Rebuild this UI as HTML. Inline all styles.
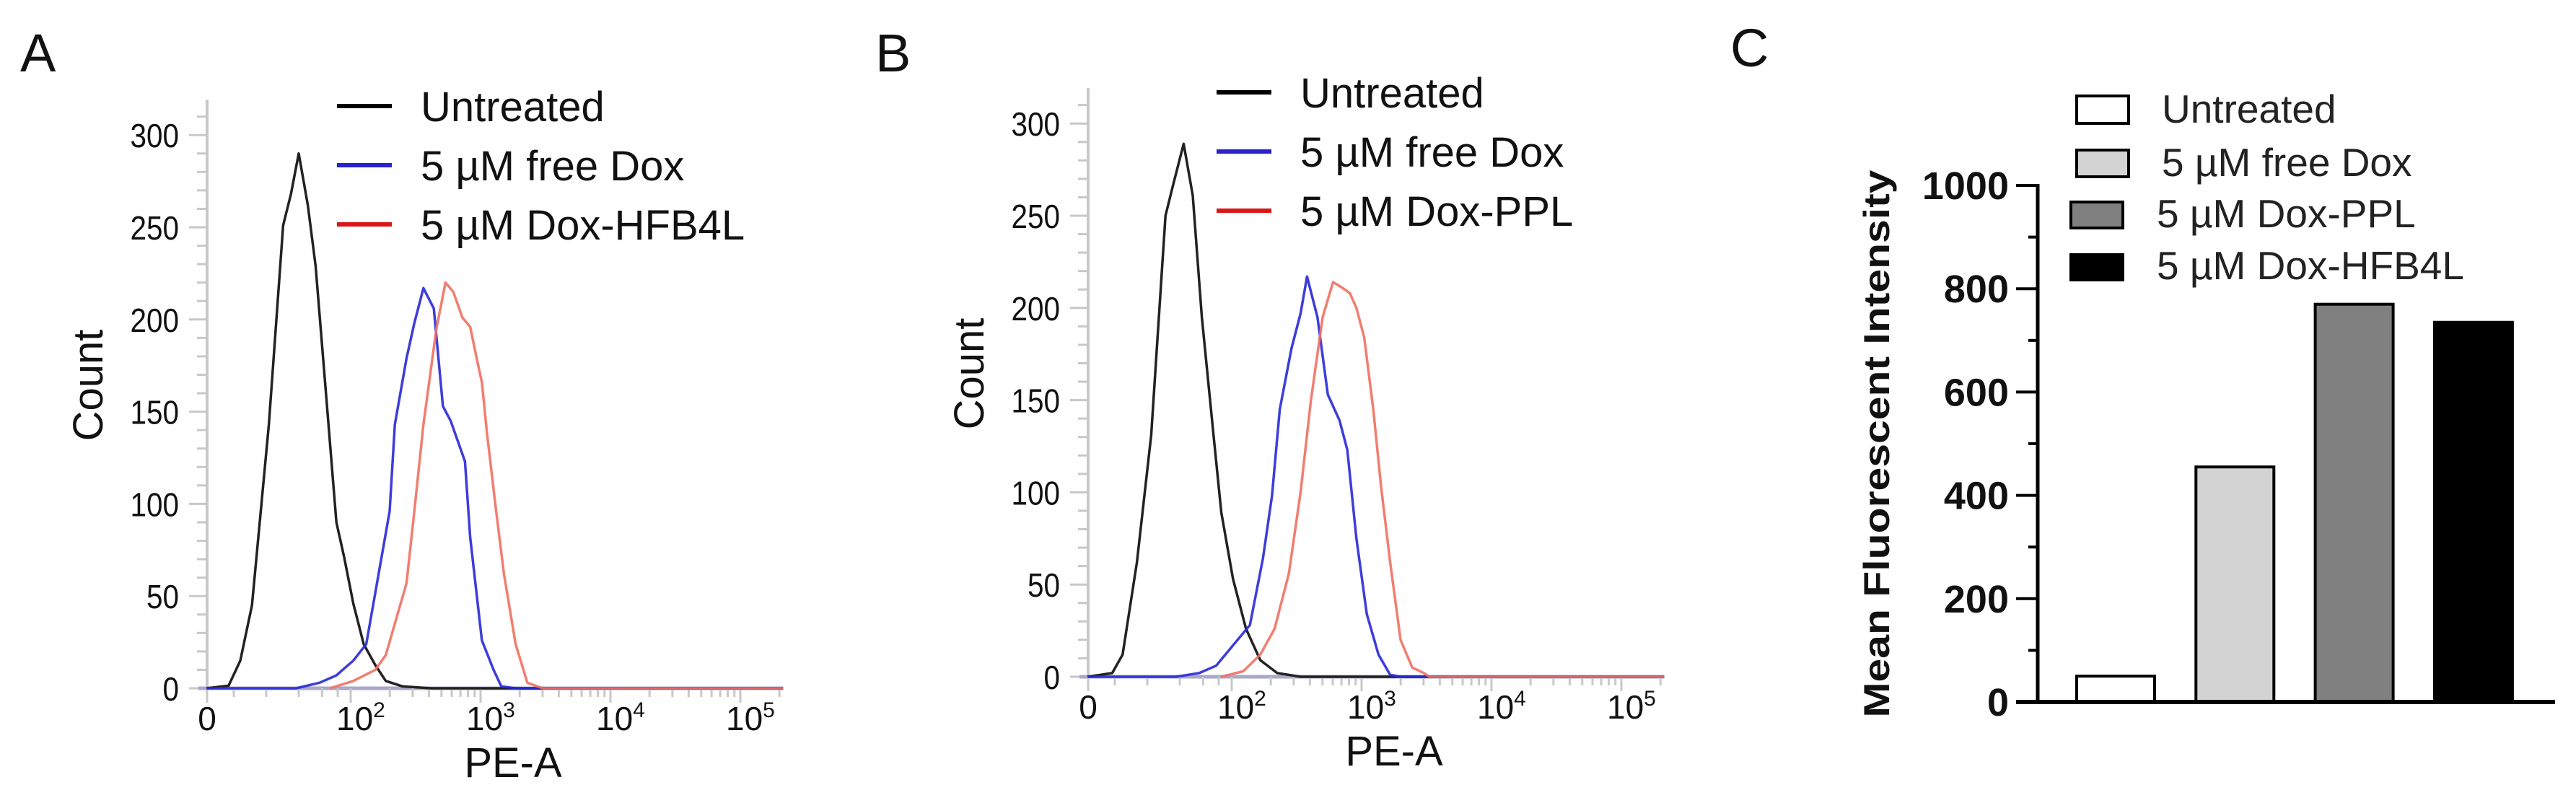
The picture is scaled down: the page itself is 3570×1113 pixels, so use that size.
<!DOCTYPE html>
<html><head><meta charset="utf-8"><style>
html,body{margin:0;padding:0;background:#fff;}
svg{display:block;}
text{font-family:"Liberation Sans",Arial,sans-serif;}
</style></head><body>
<svg id="fig" width="3570" height="1113" viewBox="0 0 3570 1113" xmlns="http://www.w3.org/2000/svg">
<rect width="3570" height="1113" fill="#fff"/>
<text x="28" y="99" font-size="74" fill="#111">A</text>
<text x="1213" y="99" font-size="74" fill="#111">B</text>
<text x="2398" y="92" font-size="74" fill="#111">C</text>
<g id="pa"></g>
<g id="pb"></g>
<g id="pc"></g>
</svg>
<script>
// ---- Panel A data (x in display decades: 2 = 10^2, 3 = 10^3 ...) ----
const aBlackX=[0.89,1.06,1.15,1.24,1.37,1.48,1.54,1.60,1.67,1.73,1.82,1.89,1.95,2.02,2.10,2.19,2.27,2.40,2.62,5.33];
const aBlackY=[0,1.4,15,45,143,251,268,290,262,229,151,90,71,46,24,12.5,4,1,0,0];
const aBlueX=[0.89,1.58,1.76,1.89,2.02,2.12,2.23,2.30,2.34,2.43,2.49,2.56,2.64,2.71,2.77,2.88,2.92,3.01,3.10,3.16,3.27,5.33];
const aBlueY=[0,0,3,7,15,24,68,96,143,179,198,217,206,153,145,123,82,26,10,1,0,0];
const aRedX=[1.84,2.02,2.19,2.27,2.34,2.43,2.49,2.56,2.66,2.73,2.79,2.86,2.92,2.97,3.01,3.05,3.12,3.18,3.27,3.36,3.48,5.33];
const aRedY=[0,4,10,18,35,57,96,143,195,220,215,201,196,179,166,138,96,62,24,3,0,0];
const aLegend=["Untreated","5 \u00b5M  free Dox","5 \u00b5M  Dox-HFB4L"];
// ---- Panel B data ----
const bBlackX=[0.89,1.08,1.16,1.27,1.38,1.49,1.55,1.63,1.70,1.77,1.86,1.92,2.01,2.11,2.22,2.35,2.53,5.33];
const bBlackY=[0,2,12,62,131,250,267,289,261,195,131,89,53,26,9,2,0,0];
const bBlueX=[0.89,1.57,1.75,1.88,2.01,2.14,2.24,2.31,2.37,2.46,2.53,2.58,2.66,2.74,2.83,2.89,2.96,3.04,3.13,3.22,3.30,5.33];
const bBlueY=[0,0,2,6,17,28,64,98,145,178,197,217,195,153,139,123,75,34,12,1,0,0];
const bRedX=[1.92,2.09,2.22,2.33,2.44,2.53,2.61,2.70,2.78,2.85,2.91,2.96,3.02,3.09,3.15,3.22,3.30,3.39,3.48,3.52,5.33];
const bRedY=[0,3,12,26,56,100,150,195,214,211,208,200,184,145,103,62,20,5,2,0,0];
const bLegend=["Untreated","5 \u00b5M  free Dox","5 \u00b5M  Dox-PPL"];
// ---- shared axis ticks ----
const countTicks=[0,50,100,150,200,250,300];
const decadeTicks=[2,3,4,5];
// ---- Panel C data ----
const barCats=["Untreated","5 \u00b5M free Dox","5 \u00b5M Dox-PPL","5 \u00b5M Dox-HFB4L"];
const barVals=[50,455,770,735];
const barTicks=[0,200,400,600,800,1000];

const NS="http://www.w3.org/2000/svg";
function mk(parent,tag,attrs,txt){const e=document.createElementNS(NS,tag);for(const k in attrs)e.setAttribute(k,attrs[k]);if(txt!==undefined)e.textContent=txt;parent.appendChild(e);return e;}

function hist(gid,ax,base,dec2,series,legend,legX,legY0){
  const g=document.getElementById(gid);
  const xS=d=>dec2+(d-2)*180;
  const yS=c=>base-c*2.556;
  const xEnd=xS(5.33);
  const yAxis=mk(g,'line',{x1:ax,y1:base-816,x2:ax,y2:base,stroke:'#c8c8c8','stroke-width':4});
  
  
  for(let c=0;c<=310;c+=10){
    const major=c%50===0;
    const t=mk(g,'line',{x1:ax-(major?25:14),y1:yS(c),x2:ax,y2:yS(c),stroke:'#c8c8c8','stroke-width':3});
    
    
  }
  countTicks.forEach(c=>{
    const s=String(c);
    const t=mk(g,'text',{x:ax-39,y:yS(c)+17,'font-size':46,'text-anchor':'end',fill:'#111',textLength:s.length*22.5,lengthAdjust:'spacingAndGlyphs'},s);
    
    
  });
  const xAxis=mk(g,'line',{x1:ax-12,y1:base,x2:xEnd,y2:base,stroke:'#a8a8c8','stroke-width':5});
  
  
  const minors=[];
  [1.1,1.35,1.6,1.78,1.9].forEach(v=>minors.push(v));
  for(let k=2;k<=4;k++)for(let m=2;m<=9;m++)minors.push(k+Math.log10(m));
  minors.push(5+Math.log10(2));
  minors.forEach(d=>{
    const t=mk(g,'line',{x1:xS(d),y1:base,x2:xS(d),y2:base+12,stroke:'#c8c8c8','stroke-width':3});
    
    
  });
  const zeroD=(ax-dec2)/180+2;
  [zeroD].concat(decadeTicks).forEach(d=>{
    const t=mk(g,'line',{x1:xS(d),y1:base,x2:xS(d),y2:base+20,stroke:'#c8c8c8','stroke-width':3});
    
    
  });
  const z=mk(g,'text',{x:ax,y:base+58,'font-size':46,'text-anchor':'middle',fill:'#111'},'0');
  
  
  decadeTicks.forEach(d=>{
    const t=mk(g,'text',{x:xS(d)-20,y:base+58,'font-size':46,fill:'#111'},'10');
    
    
    mk(t,'tspan',{dy:-18,'font-size':30},String(d));
  });
  const xt=mk(g,'text',{x:xS(2)+225,y:base+123,'font-size':58,'text-anchor':'middle',fill:'#111'},'PE-A');
  
  
  const yt=mk(g,'text',{x:0,y:0,'font-size':58,'text-anchor':'middle',fill:'#111',transform:`translate(${ax-145},${base-420}) rotate(-90)`},'Count');
  
  
  const names=['untreated-curve','free-dox-curve','dox-conjugate-curve'];
  series.forEach((s,i)=>{
    const pts=s.x.map((v,j)=>xS(v).toFixed(1)+','+yS(s.y[j]).toFixed(1)).join(' ');
    const p=mk(g,'polyline',{points:pts,fill:'none',stroke:s.c,'stroke-width':3.5,'stroke-linejoin':'round',opacity:s.o});
    
    
  });
  const legCols=['#000','#2a22cc','#d81818'];
  legend.forEach((l,i)=>{
    const y=legY0+i*82;
    const ln=mk(g,'line',{x1:legX,y1:y,x2:legX+76,y2:y,stroke:legCols[i],'stroke-width':6});
    
    
    const t=mk(g,'text',{x:legX+116,y:y+21,'font-size':58,fill:'#111','xml:space':'preserve'},l);
    
    
  });
}
hist('pa',287,954,486,[
  {x:aBlackX,y:aBlackY,c:'#222',o:1},{x:aBlueX,y:aBlueY,c:'#2828d8',o:0.9},{x:aRedX,y:aRedY,c:'#f07060',o:0.9}],aLegend,467,147);
hist('pb',1508,938,1707,[
  {x:bBlackX,y:bBlackY,c:'#222',o:1},{x:bBlueX,y:bBlueY,c:'#2828d8',o:0.9},{x:bRedX,y:bRedY,c:'#f07060',o:0.9}],bLegend,1686,128);

// ---- Panel C ----
(function(){
  const g=document.getElementById('pc');
  const ax=2824, base=973;
  const yS=v=>base-v*0.716;
  const x0=2878, pitch=165.3, bw=108;
  const xS=i=>x0+i*pitch;
  const fills=['#ffffff','#d3d3d3','#808080','#000000'];
  barVals.forEach((v,i)=>{
    const r=mk(g,'rect',{x:xS(i),y:yS(v),width:bw,height:base-yS(v),fill:fills[i],stroke:'#000','stroke-width':4});
    
    
  });
  const ya=mk(g,'line',{x1:ax,y1:yS(1000)-2,x2:ax,y2:base,stroke:'#000','stroke-width':5});
  
  
  const xa=mk(g,'line',{x1:2794,y1:base,x2:3541,y2:base,stroke:'#000','stroke-width':6});
  
  
  for(let v=0;v<=1000;v+=100){
    const major=v%200===0;
    const t=mk(g,'line',{x1:ax-(major?30:13),y1:yS(v),x2:ax,y2:yS(v),stroke:'#000','stroke-width':4});
    
    
  }
  barTicks.forEach(v=>{
    const t=mk(g,'text',{x:2784,y:yS(v)+19,'font-size':54,'font-weight':'bold','text-anchor':'end',fill:'#111'},String(v));
    
    
  });
  const yt=mk(g,'text',{x:0,y:0,'font-size':50,'font-weight':'bold','text-anchor':'middle',fill:'#111',textLength:759,lengthAdjust:'spacingAndGlyphs',transform:'translate(2618,615) rotate(-90)'},'Mean Fluorescent Intensity');
  
  
  const legY=[[133,171],[208,245],[280,316],[353,388]];
  const legX=[2878,2878,2870,2870];
  barCats.forEach((c,i)=>{
    const r=mk(g,'rect',{x:legX[i],y:legY[i][0],width:72,height:legY[i][1]-legY[i][0],fill:fills[i],stroke:'#000','stroke-width':4});
    
    
    const t=mk(g,'text',{x:(i<2?2996:2989),y:legY[i][1]-1,'font-size':55,fill:'#222'},c);
    
    
  });
})();
</script>
</body></html>
